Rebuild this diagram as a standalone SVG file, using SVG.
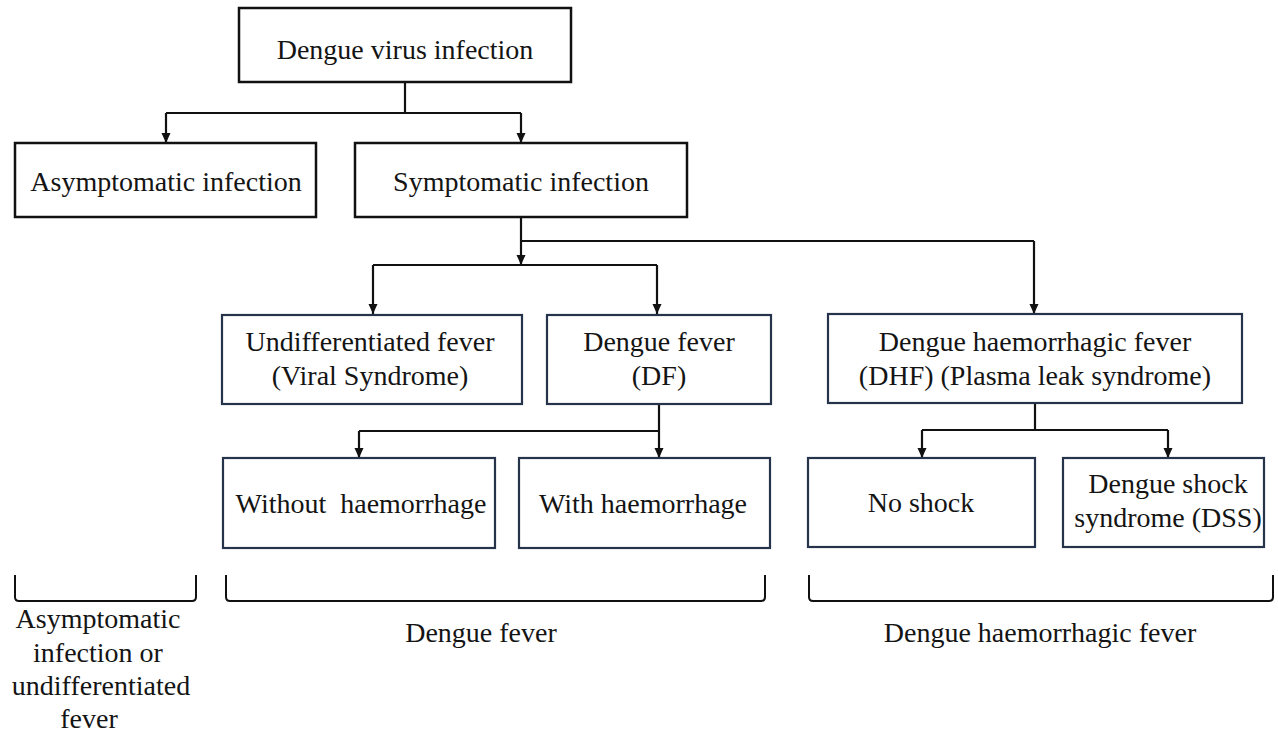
<svg xmlns="http://www.w3.org/2000/svg" width="1278" height="734" viewBox="0 0 1278 734">
  <style>
    .box { fill: #ffffff; stroke: #111111; stroke-width: 2.5; }
    .box2 { fill: #ffffff; stroke: #25344a; stroke-width: 2.2; }
    .lbl { font-family: 'Liberation Serif', 'Times New Roman', serif; font-size: 28px; fill: #141414; text-anchor: middle; }
    .wire { fill: none; stroke: #111111; stroke-width: 2.2; }
    .arrow { fill: none; stroke: #111111; stroke-width: 2.2; marker-end: url(#head); }
    .brace { fill: none; stroke: #111111; stroke-width: 2; }
  </style>
  <defs>
    <marker id="head" markerUnits="userSpaceOnUse" markerWidth="10" markerHeight="10" viewBox="0 0 10 10" refX="10" refY="5" orient="auto">
      <path d="M0,0.5 L10,5 L0,9.5 z" fill="#111111"/>
    </marker>
  </defs>
  <rect width="1278" height="734" fill="#ffffff"/>

  <!-- connectors -->
  <g id="connectors">
    <path class="wire" d="M405,82 V113 M166,113 H521"/>
    <path class="arrow" d="M166,113 V143"/>
    <path class="arrow" d="M521,113 V143"/>

    <path class="arrow" d="M521,217 V265"/>
    <path class="wire" d="M521,241 H1034"/>
    <path class="arrow" d="M1034,241 V314"/>
    <path class="wire" d="M373,265 H657"/>
    <path class="arrow" d="M373,265 V314"/>
    <path class="arrow" d="M657,265 V314"/>

    <path class="wire" d="M659,404 V431 M359,431 H659"/>
    <path class="arrow" d="M359,431 V458"/>
    <path class="arrow" d="M659,431 V458"/>

    <path class="wire" d="M1035,403 V430 M922,430 H1168"/>
    <path class="arrow" d="M922,430 V458"/>
    <path class="arrow" d="M1168,430 V458"/>
  </g>

  <!-- level 1 -->
  <g id="dengue-virus-infection">
    <rect class="box" x="239" y="8" width="332" height="74"/>
    <text class="lbl" x="405" y="59">Dengue virus infection</text>
  </g>

  <!-- level 2 -->
  <g id="asymptomatic-infection">
    <rect class="box" x="15" y="143" width="301" height="74"/>
    <text class="lbl" x="166" y="191">Asymptomatic infection</text>
  </g>
  <g id="symptomatic-infection">
    <rect class="box" x="355" y="143" width="332" height="74"/>
    <text class="lbl" x="521" y="191">Symptomatic infection</text>
  </g>

  <!-- level 3 -->
  <g id="undifferentiated-fever">
    <rect class="box2" x="222" y="315" width="300" height="89"/>
    <text class="lbl" x="370" y="351">Undifferentiated fever</text>
    <text class="lbl" x="370" y="385">(Viral Syndrome)</text>
  </g>
  <g id="dengue-fever-df">
    <rect class="box2" x="547" y="315" width="224" height="89"/>
    <text class="lbl" x="659" y="351">Dengue fever</text>
    <text class="lbl" x="659" y="385">(DF)</text>
  </g>
  <g id="dhf">
    <rect class="box2" x="828" y="314" width="414" height="89"/>
    <text class="lbl" x="1035" y="351">Dengue haemorrhagic fever</text>
    <text class="lbl" x="1035" y="385">(DHF) (Plasma leak syndrome)</text>
  </g>

  <!-- level 4 -->
  <g id="without-haemorrhage">
    <rect class="box2" x="223" y="458" width="272" height="90"/>
    <text class="lbl" x="361" y="513" xml:space="preserve">Without  haemorrhage</text>
  </g>
  <g id="with-haemorrhage">
    <rect class="box2" x="519" y="458" width="251" height="90"/>
    <text class="lbl" x="643" y="513">With haemorrhage</text>
  </g>
  <g id="no-shock">
    <rect class="box2" x="808" y="458" width="227" height="89"/>
    <text class="lbl" x="921" y="512">No shock</text>
  </g>
  <g id="dss">
    <rect class="box2" x="1063" y="458" width="201" height="89"/>
    <text class="lbl" x="1168" y="493">Dengue shock</text>
    <text class="lbl" x="1168" y="527">syndrome (DSS)</text>
  </g>

  <!-- grouping braces with captions -->
  <g id="group-asymptomatic">
    <path class="brace" d="M15,575 V597 Q15,601 19,601 H192 Q196,601 196,597 V575"/>
    <text class="lbl" x="98" y="628">Asymptomatic</text>
    <text class="lbl" x="98" y="662">infection or</text>
    <text class="lbl" x="101" y="695">undifferentiated</text>
    <text class="lbl" x="89" y="728">fever</text>
  </g>
  <g id="group-dengue-fever">
    <path class="brace" d="M226,575 V597 Q226,601 230,601 H761 Q765,601 765,597 V575"/>
    <text class="lbl" x="481" y="642">Dengue fever</text>
  </g>
  <g id="group-dhf">
    <path class="brace" d="M809,575 V597 Q809,601 813,601 H1269 Q1273,601 1273,597 V575"/>
    <text class="lbl" x="1040" y="642">Dengue haemorrhagic fever</text>
  </g>
</svg>
